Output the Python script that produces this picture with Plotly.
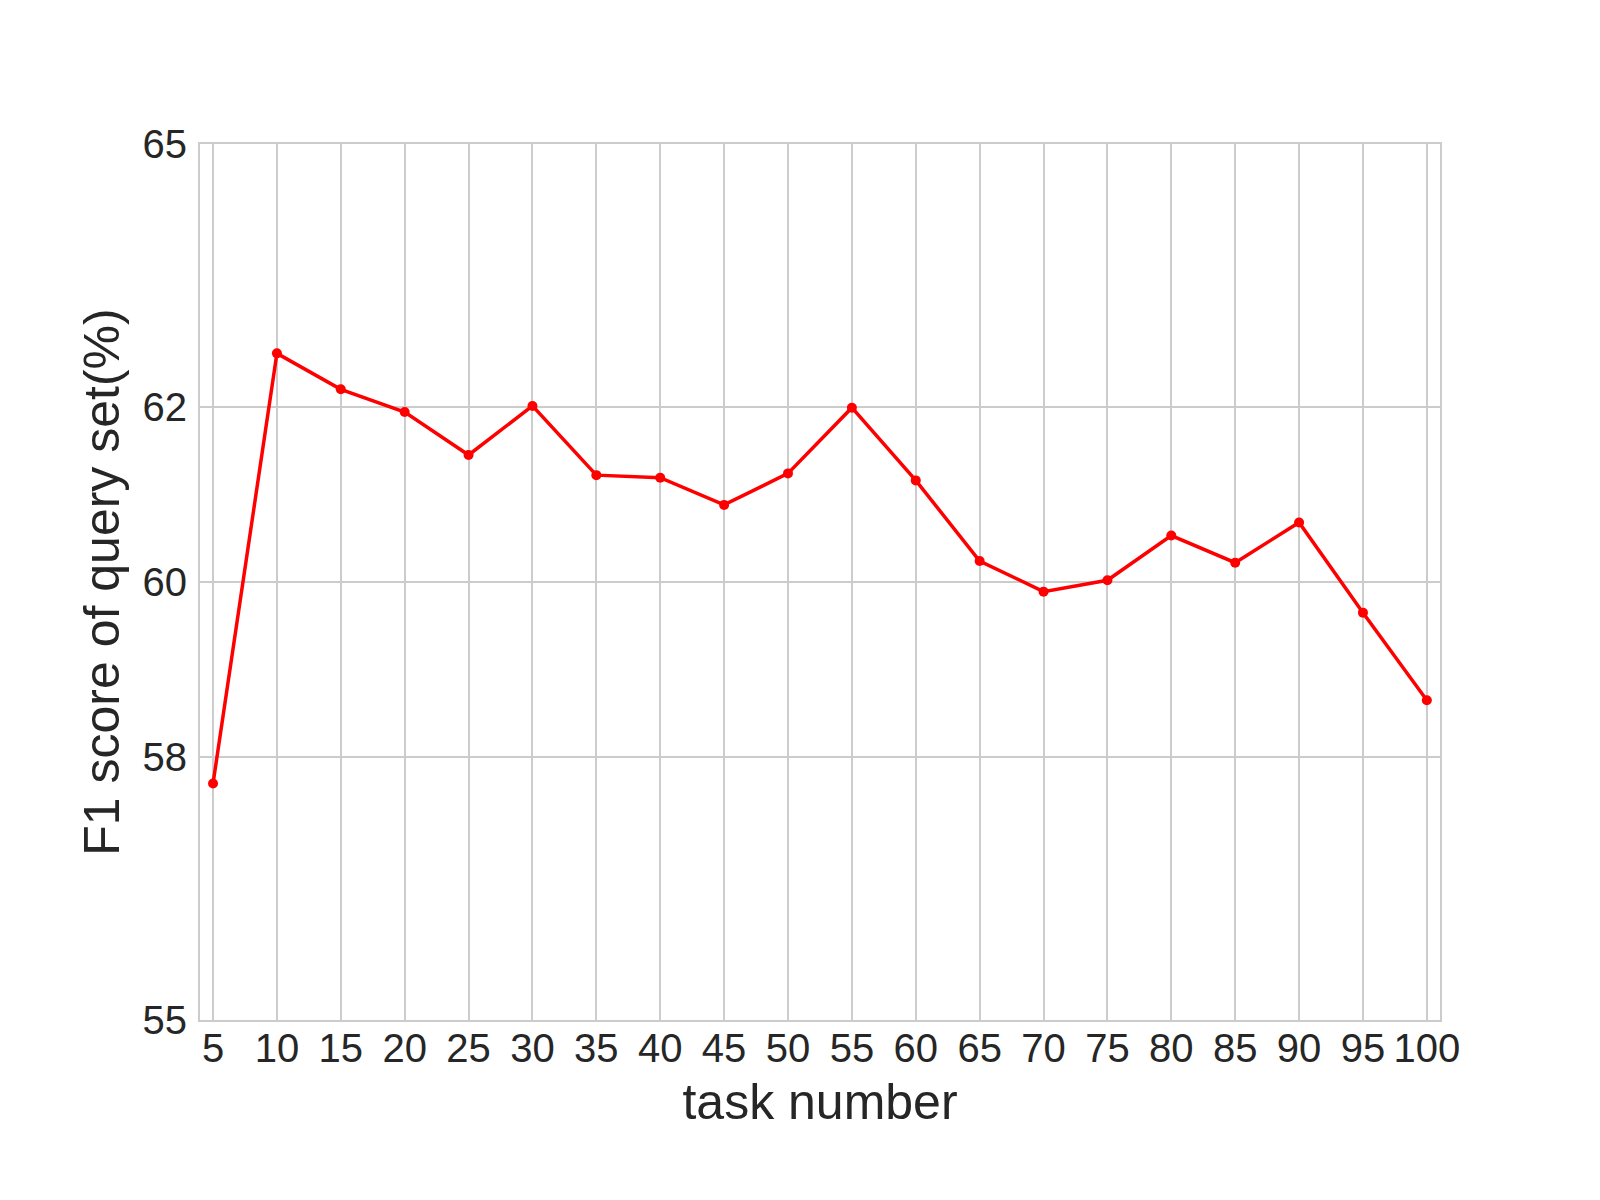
import plotly.graph_objects as go

task_numbers = [5, 10, 15, 20, 25, 30, 35, 40, 45, 50, 55, 60, 65, 70, 75, 80, 85, 90, 95, 100]
f1_scores = [57.70, 62.61, 62.20, 61.94, 61.45, 62.01, 61.22, 61.19, 60.88, 61.24,
             61.99, 61.16, 60.24, 59.89, 60.02, 60.53, 60.22, 60.68, 59.65, 58.65]
y_ticks = [55, 58, 60, 62, 65]

FONT = "Liberation Sans, Arial, sans-serif"
TXT = "#262626"
GRID = "#cccccc"

fig = go.Figure()
fig.add_trace(go.Scatter(
    x=task_numbers, y=f1_scores, mode="lines+markers",
    line=dict(color="#ff0000", width=3.5),
    marker=dict(color="#ff0000", size=10),
    showlegend=False,
))

fig.update_layout(
    width=1600, height=1200,
    paper_bgcolor="white", plot_bgcolor="white",
    margin=dict(l=192, r=168, t=136, b=188),
    font=dict(family=FONT, color=TXT, size=40),
)
fig.update_xaxes(
    range=[3.98, 101.03], tickvals=task_numbers,
    ticktext=[str(v) for v in task_numbers],
    showgrid=True, gridcolor=GRID, gridwidth=2,
    showline=True, linecolor=GRID, linewidth=2, mirror=True,
    zeroline=False, ticks="", ticklabelstandoff=-8,
    tickfont=dict(size=40, color=TXT),
    title=dict(text="task number", font=dict(size=50, color=TXT), standoff=15),
)
fig.update_yaxes(
    range=[55, 65], tickvals=y_ticks,
    showgrid=True, gridcolor=GRID, gridwidth=2,
    showline=True, linecolor=GRID, linewidth=2, mirror=True,
    zeroline=False, ticks="", ticklabelstandoff=3,
    tickfont=dict(size=40, color=TXT),
    title=dict(text="F1 score of query set(%)", font=dict(size=50, color=TXT), standoff=7),
)

fig.write_html("out.html")
